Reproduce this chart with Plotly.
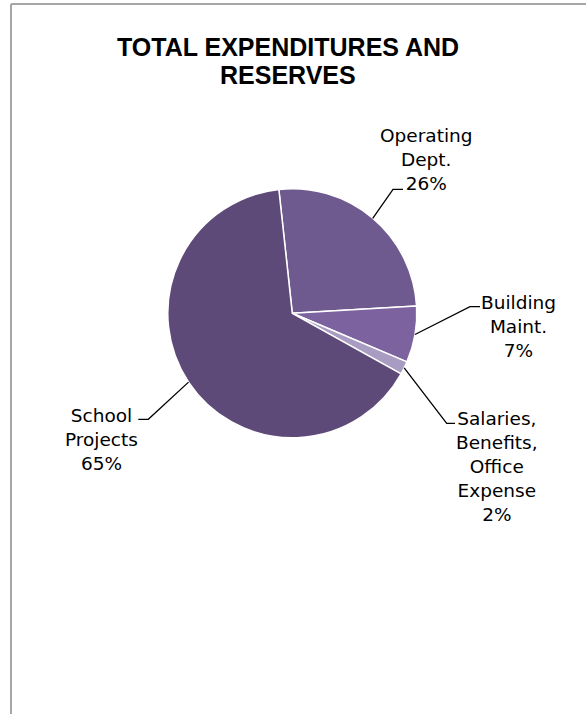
import math
import plotly.graph_objects as go

# ---- data ----
categories = ["Operating Dept.", "Building Maint.",
              "Salaries, Benefits, Office Expense", "School Projects"]
shares = [25.8, 7.3, 1.7, 65.2]
label_lines = [
    ["Operating", "Dept."],
    ["Building", "Maint."],
    ["Salaries,", "Benefits,", "Office", "Expense"],
    ["School", "Projects"],
]
slice_colors = ["#6E5A8E", "#7D62A0", "#A99CC2", "#5E4A78"]
title_lines = ["TOTAL EXPENDITURES AND", "RESERVES"]

# ---- page geometry (pixels) ----
W, H = 586, 714
CX, CY, R = 292.3, 313.3, 124.5      # pie centre and radius
ROTATION = -6.2                        # start angle of first slice, clockwise from 12 o'clock
LABEL_FONT = 18.5
LABEL_ASCENT = 0.928 * LABEL_FONT + 1  # ascent + annotation pad

# label placement: text centre x, first baseline y, elbow x, elbow y, tail x
label_layout = [
    (426.0, 140.7, 393.0, 189.3, 403.0),
    (518.5, 308.3, 470.0, 306.7, 480.0),
    (497.0, 424.0, 446.7, 423.3, 455.0),
    (101.0, 420.7, 148.3, 419.3, 138.3),
]


def px(x):
    return x / W


def py(y):
    return 1 - y / H


total = sum(shares)

fig = go.Figure(go.Pie(
    labels=categories,
    values=shares,
    sort=False,
    direction="clockwise",
    rotation=ROTATION,
    marker=dict(colors=slice_colors, line=dict(color="white", width=1.5)),
    textinfo="none",
    hoverinfo="label+percent",
    showlegend=False,
    domain=dict(x=[px(CX - R), px(CX + R)], y=[py(CY + R), py(CY - R)]),
))

shapes = []
annotations = []

# leader lines from each slice's outer edge (at its mid angle) to its label
angle = ROTATION
for value, lines, (tx, tb, ex, ey, tail) in zip(shares, label_lines, label_layout):
    sweep = value / total * 360
    mid = math.radians(angle + sweep / 2)
    angle += sweep
    sx = CX + R * math.sin(mid)
    sy = CY - R * math.cos(mid)
    shapes.append(dict(
        type="path", xref="paper", yref="paper",
        path=f"M {px(sx)},{py(sy)} L {px(ex)},{py(ey)} L {px(tail)},{py(ey)}",
        line=dict(color="black", width=1.3),
    ))
    pct = f"{round(value / total * 100)}%"
    annotations.append(dict(
        text="<br>".join(lines + [pct]),
        x=px(tx), y=py(tb - LABEL_ASCENT), xref="paper", yref="paper",
        xanchor="center", yanchor="top", align="center", showarrow=False,
        font=dict(family="DejaVu Sans", size=LABEL_FONT, color="black"),
    ))

# two-line bold title
for line, base in zip(title_lines, [47.0, 75.3]):
    annotations.append(dict(
        text=f"<b>{line}</b>", x=px(287.5), y=py(base), xref="paper", yref="paper",
        xanchor="center", yanchor="middle", showarrow=False,
        font=dict(family="Liberation Sans", size=25, color="black"),
    ))

# chart frame (top and left edges)
frame = dict(color="#A6A6A6", width=2)
shapes.append(dict(type="line", xref="paper", yref="paper",
                   x0=px(11), y0=py(4), x1=px(W + 5), y1=py(4), line=frame))
shapes.append(dict(type="line", xref="paper", yref="paper",
                   x0=px(11), y0=py(4), x1=px(11), y1=py(H + 5), line=frame))

fig.update_layout(
    width=W, height=H, autosize=False,
    margin=dict(l=0, r=0, t=0, b=0),
    paper_bgcolor="white", plot_bgcolor="white",
    shapes=shapes, annotations=annotations,
)

fig.write_html("out.html")
